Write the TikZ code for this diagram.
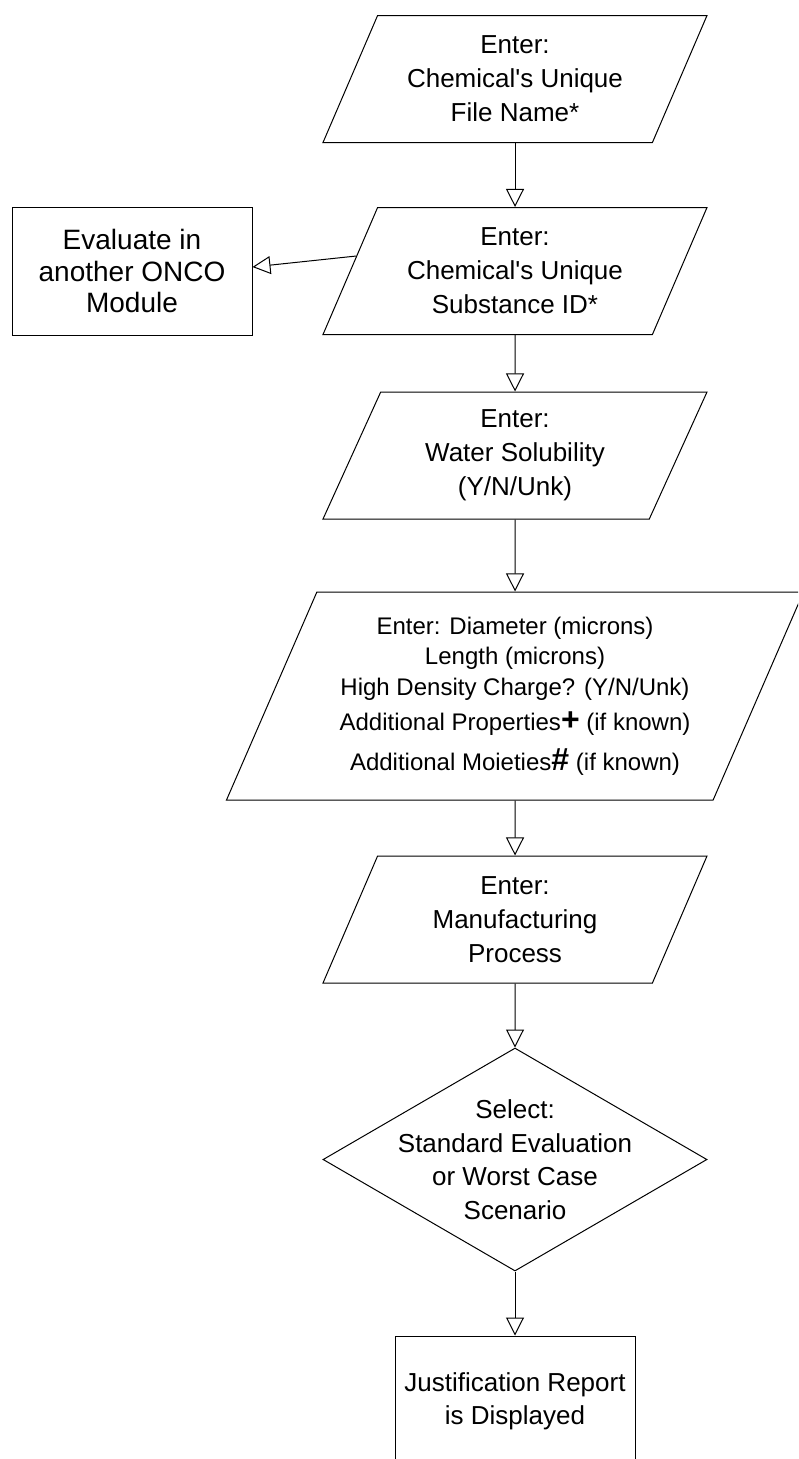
\documentclass[tikz,border=0pt]{standalone}
\usepackage{fontspec}
\setmainfont{Liberation Sans}
\usetikzlibrary{shapes.geometric,arrows.meta,calc}

\tikzset{
  inbox/.style={trapezium, trapezium left angle=58.8, trapezium right angle=121.2,
    trapezium stretches body, draw, line width=1pt, minimum width=384pt,
    minimum height=127pt, inner sep=2pt, align=center,
    font=\fontsize{26}{34}\selectfont},
  procbox/.style={rectangle, draw, line width=1pt, minimum width=240pt,
    minimum height=128pt, align=center, font=\fontsize{26}{32}\selectfont},
  decision/.style={diamond, draw, line width=1pt, minimum width=384pt,
    minimum height=223pt, inner sep=0pt},
  flow/.style={line width=1pt, -{Triangle[open, length=18pt, width=18pt]}}
}

\begin{document}
\begin{tikzpicture}[x=1pt, y=-1pt]
    \clip (0,0) rectangle (798,1459);

    \node[inbox] (filename) at (515,79) {Enter:\\Chemical\textquotesingle s Unique\\File Name*};
    \node[inbox] (substid) at (515,271) {Enter:\\Chemical\textquotesingle s Unique\\Substance ID*};
    \node[procbox, font=\fontsize{28}{31.5}\selectfont] (onco) at (132,271) {Evaluate in\\another ONCO\\Module};
    \node[inbox] (water) at (515,455.5) {Enter:\\Water Solubility\\(Y/N/Unk)};
    \node[inbox, trapezium left angle=60.9, trapezium right angle=119.1,
        minimum width=577pt, minimum height=208pt,
        font=\fontsize{24}{30.5}\selectfont] (props) at (515,696)
        {Enter: Diameter (microns)\\Length (microns)\\High Density Charge? (Y/N/Unk)\\[5pt]
         Additional Properties{\fontsize{32}{30}\selectfont\textbf{+}} (if known)\\[9pt]
         Additional Moieties{\fontsize{32}{30}\selectfont\textbf{\#}} (if known)};
    \node[inbox] (manuf) at (515,919.5) {Enter:\\Manufacturing\\Process};
    \node[decision, label={[align=center, font=\fontsize{26}{33.5}\selectfont]center:{Select:\\Standard Evaluation\\or Worst Case\\Scenario}}] (select) at (515,1159.5) {};
    \node[procbox, minimum height=130pt, font=\fontsize{26}{33}\selectfont] (report) at (515,1401) {Justification Report\\is Displayed};

    \draw[flow] (filename.south) -- (substid.north);
    \draw[flow] ($(substid.top left corner)!0.383!(substid.bottom left corner)$) -- ([yshift=4pt]onco.east);
    \draw[flow] (substid.south) -- (water.north);
    \draw[flow] (water.south) -- (props.north);
    \draw[flow] (props.south) -- (manuf.north);
    \draw[flow] (manuf.south) -- (select.north);
    \draw[flow] (select.south) -- (report.north);
\end{tikzpicture}
\end{document}
